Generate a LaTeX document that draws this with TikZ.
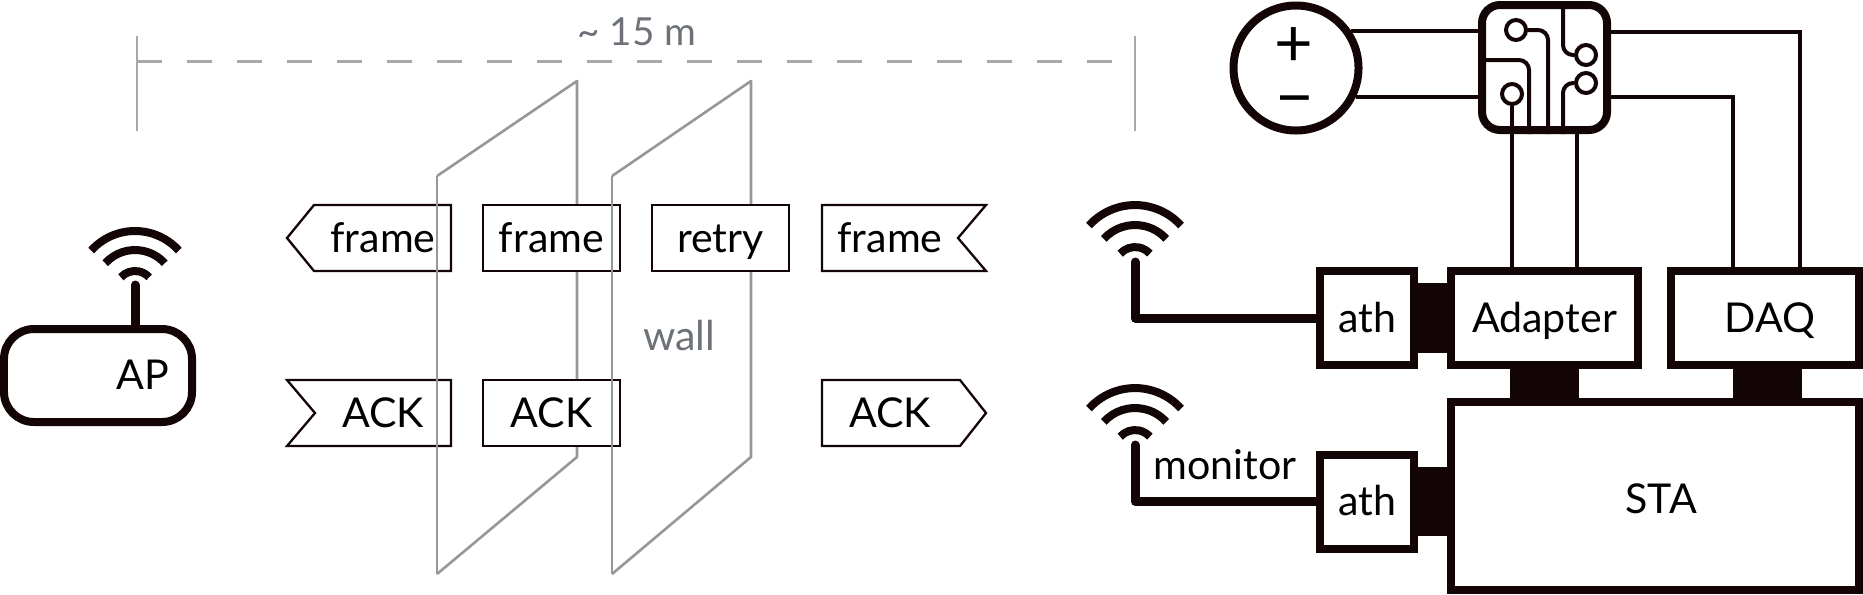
\documentclass[tikz,border=0pt]{standalone}
\usepackage{fontspec}
\setmainfont{Lato}
\definecolor{ink}{HTML}{130505}
\definecolor{wallc}{HTML}{97979B}
\definecolor{wallt}{HTML}{6D7278}
\definecolor{rulec}{HTML}{A8A8AA}
\tikzset{
  every node/.style = {font=\fontsize{11.7}{14}\selectfont, text=black},
  lab/.style = {inner sep=0pt, text height=.28cm, text depth=0pt},
  pkt/.style = {lab, draw=ink, fill=white, line width=.023cm, minimum width=1.37cm, minimum height=.66cm},
  hop/.style = {lab, draw=ink, fill=white, line width=.08cm, minimum height=.94cm},
  ptk/.style = {draw=ink, fill=white, line width=.023cm},
  wall/.style = {draw=wallc, line width=.026cm, line join=round},
  wire/.style = {draw=ink, line width=.04cm},
  aerial/.style = {draw=ink, line width=.09cm, line cap=round, line join=round},
  pad/.style = {circle, draw=ink, fill=white, line width=.04cm, minimum size=.2cm, inner sep=0pt},
  wifi/.pic = {
    \foreach \r in {.19, .40, .59}
      \draw[ink, line width=.08cm] (222:\r) arc (222:318:\r);
  }
}
\begin{document}
\begin{tikzpicture}[y=-1cm]
  \useasboundingbox (0, 0) rectangle (18.63, 5.94);

  % distance
  \coordinate (rulerL) at (1.37, .61);
  \coordinate (rulerR) at (11.35, .61);
  \draw[rulec, line width=.026cm] (1.37, .36) -- (1.37, 1.31);
  \draw[rulec, line width=.026cm] (11.35, .36) -- (11.35, 1.31);
  \draw[rulec, line width=.03cm, dash pattern=on .25cm off .25cm] (rulerL) -- (rulerR);
  \node[text=wallt, font=\fontsize{11}{14}\selectfont] (dist) at (6.37, .32) {\textasciitilde{} 15 m};

  % walls
  \draw[wall] (4.37, 1.76) -- (5.77, .81) -- (5.77, 4.57) -- (4.37, 5.74);
  \draw[wall] (6.12, 1.76) -- (7.51, .81) -- (7.51, 4.57) -- (6.12, 5.74);
  \node[lab, text=wallt] (wall) at (6.79, 3.36) {wall};

  % packets
  \draw[ptk] (2.87, 2.38) -- (3.14, 2.05) -- (4.51, 2.05) -- (4.51, 2.71) -- (3.14, 2.71) -- cycle;
  \node[lab] (frameA) at (3.83, 2.38) {frame};
  \node[pkt] (frameB) at (5.515, 2.38) {frame};
  \node[pkt] (retry) at (7.205, 2.38) {retry};
  \draw[ptk] (8.22, 2.05) -- (9.86, 2.05) -- (9.58, 2.38) -- (9.86, 2.71) -- (8.22, 2.71) -- cycle;
  \node[lab] (frameC) at (8.90, 2.38) {frame};

  \draw[ptk] (2.87, 3.80) -- (4.51, 3.80) -- (4.51, 4.46) -- (2.87, 4.46) -- (3.15, 4.13) -- cycle;
  \node[lab] (ackA) at (3.83, 4.13) {ACK};
  \node[pkt] (ackB) at (5.515, 4.13) {ACK};
  \draw[ptk] (8.22, 3.80) -- (9.60, 3.80) -- (9.86, 4.13) -- (9.60, 4.46) -- (8.22, 4.46) -- cycle;
  \node[lab] (ackC) at (8.90, 4.13) {ACK};

  \draw[wall] (4.37, 1.76) -- (4.37, 5.74);
  \draw[wall] (6.12, 1.76) -- (6.12, 5.74);

  % access point
  \node[draw=ink, line width=.08cm, rounded corners=.3cm, minimum width=1.88cm, minimum height=.93cm] (ap) at (.98, 3.755) {};
  \node[lab] (apText) at (1.43, 3.75) {AP};
  \coordinate (antAP) at (1.35, 2.85);
  \draw[aerial] (antAP) -- (antAP |- ap.north);
  \pic at (1.35, 2.90) {wifi};

  % station
  \node[hop, minimum width=.94cm] (athA) at (13.67, 3.18) {ath};
  \node[hop, minimum width=1.87cm] (adapter) at (15.445, 3.18) {Adapter};
  \node[hop, minimum width=1.88cm] (daq) at (17.65, 3.18) {\hspace*{.1cm}DAQ};
  \node[hop, minimum width=.94cm] (athB) at (13.67, 5.015) {ath};
  \node[hop, minimum width=4.08cm, minimum height=1.88cm, text height=.34cm] (sta) at (16.55, 4.96) {\hspace*{.12cm}STA};

  \fill[ink] ([yshift=.35cm]athA.east) rectangle ([yshift=-.35cm]adapter.west);
  \fill[ink] ([yshift=.345cm]athB.east) rectangle ([yshift=-.345cm]athB.east -| sta.west);
  \fill[ink] ([xshift=-.345cm]adapter.south) rectangle ([xshift=.345cm]adapter.south |- sta.north);
  \fill[ink] ([xshift=-.32cm]daq.south) rectangle ([xshift=.37cm]daq.south |- sta.north);

  % antennas
  \coordinate (antA) at (11.35, 2.62);
  \coordinate (antB) at (11.35, 4.45);
  \draw[aerial] (antA) |- (athA.west);
  \draw[aerial] (antB) |- (athB.west);
  \pic[scale=1.05] at (11.35, 2.67) {wifi};
  \pic[scale=1.05] at (11.35, 4.50) {wifi};
  \node[lab] (monitor) at (12.25, 4.65) {monitor};

  % battery and board
  \node[circle, draw=ink, line width=.08cm, minimum size=1.25cm, inner sep=0pt] (bat) at (12.96, .68) {};
  \node[inner sep=0pt, font=\fontsize{19}{19}\selectfont] (plus) at (12.94, .47) {+};
  \node[inner sep=0pt, font=\fontsize{19}{19}\selectfont] (minus) at (12.95, 1.08) {−};
  \node[draw=ink, line width=.08cm, rounded corners=.18cm, minimum size=1.25cm, inner sep=0pt] (pcb) at (15.445, .675) {};

  \node[pad] (padA) at (15.16, .30) {};
  \node[pad] (padB) at (15.86, .55) {};
  \node[pad] (padC) at (15.86, .83) {};
  \node[pad] (padD) at (15.12, .94) {};
  \draw[wire, rounded corners=.1cm] (padA.east) -| ([xshift=.035cm]pcb.south);
  \draw[wire, rounded corners=.1cm] ([xshift=.185cm]pcb.north) |- (padB.west);
  \draw[wire, rounded corners=.1cm] ([yshift=.075cm]pcb.west) -| ([xshift=-.155cm]pcb.south);
  \draw[wire, rounded corners=.1cm] (padC.west) -| ([xshift=.185cm]pcb.south);
  \draw[wire] (padD.south) -- (padD.south |- adapter.north);
  \draw[wire] ([xshift=.325cm]pcb.south) -- ([xshift=.325cm]adapter.north);

  \draw[wire] (bat.34) -- (bat.34 -| pcb.west);
  \draw[wire] (bat.-26) -- (bat.-26 -| pcb.west);
  \draw[wire] ([yshift=.36cm]pcb.east) -| ([xshift=.35cm]daq.north);
  \draw[wire] ([yshift=-.295cm]pcb.east) -| ([xshift=-.32cm]daq.north);
\end{tikzpicture}
\end{document}
